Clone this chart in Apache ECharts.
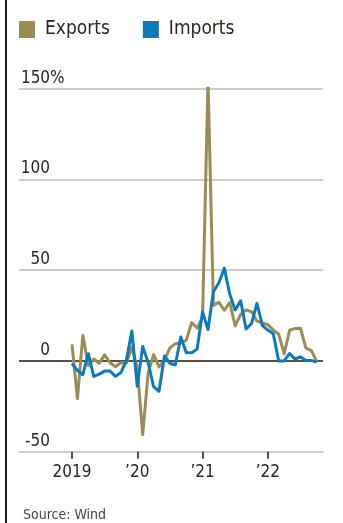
<!DOCTYPE html>
<html>
<head>
<meta charset="utf-8">
<script src="https://cdn.jsdelivr.net/npm/echarts@6/dist/echarts.min.js"></script>
<style>
html,body{margin:0;padding:0;background:#fff;}
#c{width:343px;height:523px;}
</style>
</head>
<body>
<div id="c"></div>
<script>
// Monthly y/y change, %, Jan 2019 - Oct 2022
var months = [
  '2019-01','2019-02','2019-03','2019-04','2019-05','2019-06','2019-07','2019-08','2019-09','2019-10','2019-11','2019-12',
  '2020-01','2020-02','2020-03','2020-04','2020-05','2020-06','2020-07','2020-08','2020-09','2020-10','2020-11','2020-12',
  '2021-01','2021-02','2021-03','2021-04','2021-05','2021-06','2021-07','2021-08','2021-09','2021-10','2021-11','2021-12',
  '2022-01','2022-02','2022-03','2022-04','2022-05','2022-06','2022-07','2022-08','2022-09','2022-10'
];
var exportsYoY = [
  9.1, -20.7, 14.2, -2.7, 1.1, -1.3, 3.3, -1.0, -3.2, -0.9, -1.1, 7.6,
  -4, -40.6, -6.6, 3.5, -3.3, 0.5, 7.2, 9.5, 9.9, 11.4, 21.1, 18.1,
  24, 154.9, 30.6, 32.3, 27.9, 32.2, 19.3, 25.6, 28.1, 27.1, 22.0, 20.9,
  20, 17, 14.7, 3.9, 16.9, 17.9, 18.0, 7.1, 5.7, -0.3
];
var importsYoY = [
  -1.5, -5.2, -7.6, 4.0, -8.5, -7.3, -5.6, -5.6, -8.5, -6.4, 0.3, 16.5,
  -14, 8, -0.9, -14.2, -16.7, 2.7, -1.4, -2.1, 13.2, 4.7, 4.5, 6.5,
  27, 17.3, 38.1, 43.1, 51.1, 36.7, 28.1, 33.1, 17.6, 20.6, 31.7, 19.5,
  17, 15, -0.1, 0.0, 4.1, 1.0, 2.3, 0.3, 0.3, -0.7
];
var yearTickMonths = ['2019-01','2020-01','2021-01','2022-01'];
var yearTickLabels = ['2019', '\u201920', '\u201921', '\u201922'];

var FONT = '"DejaVu Sans Condensed", "DejaVu Sans", sans-serif';
var TXT = '#2d2620';

function toPairs(vals) {
  return vals.map(function (v, i) { return [i, v]; });
}
var tickIdx = yearTickMonths.map(function (m) { return months.indexOf(m); });

var chart = echarts.init(document.getElementById('c'), null, {renderer: 'canvas'});
chart.setOption({
  animation: false,
  backgroundColor: '#fff',
  textStyle: {fontFamily: FONT},
  legend: {
    left: 19, top: 20, padding: 0,
    icon: 'rect', itemWidth: 16, itemHeight: 17, itemGap: 33,
    textStyle: {fontSize: 19, color: TXT, fontFamily: FONT, padding: [0, 0, 0, 5]},
    data: ['Exports', 'Imports']
  },
  graphic: [
    {type: 'rect', left: 5, top: 0, shape: {width: 2, height: 523}, style: {fill: '#2a1a0e'}},
    {type: 'text', left: 23, top: 508, style: {text: 'Source: Wind', font: '14px ' + FONT, fill: '#4a4540'}}
  ],
  grid: {left: 19, right: 20, top: 88.6, bottom: 523 - 451.7},
  xAxis: {
    type: 'value',
    min: -9.74, max: 46.14,
    splitLine: {show: false},
    axisLine: {show: true, onZero: false, lineStyle: {color: '#cccccc', width: 2}},
    axisTick: {show: true, customValues: tickIdx, length: 7, lineStyle: {color: '#555', width: 2}},
    axisLabel: {
      customValues: tickIdx, margin: 12, fontSize: 17, color: TXT, fontFamily: FONT,
      formatter: function (v) { var k = tickIdx.indexOf(v); return k >= 0 ? yearTickLabels[k] : ''; }
    }
  },
  yAxis: {
    type: 'value', min: -50, max: 150, interval: 50,
    axisLine: {show: false}, axisTick: {show: false},
    splitLine: {show: true, lineStyle: {color: ['#cccccc', '#5a5048', '#cccccc', '#cccccc', '#cccccc'], width: 2}},
    axisLabel: {
      inside: true, margin: 2, verticalAlign: 'bottom', align: 'left',
      padding: [0, 0, 2, 0],
      formatter: function (v) { return '{n|' + v + '}' + (v === 150 ? '{p|%}' : ''); },
      rich: {
        n: {width: 29, align: 'right', fontSize: 17, color: TXT, fontFamily: FONT, lineHeight: 17},
        p: {fontSize: 17, color: TXT, fontFamily: FONT, lineHeight: 17}
      }
    }
  },
  series: [
    {name: 'Exports', type: 'line', data: toPairs(exportsYoY), symbol: 'none', color: '#998d55',
     lineStyle: {width: 3, color: '#998d55', join: 'round'}, z: 2},
    {name: 'Imports', type: 'line', data: toPairs(importsYoY), symbol: 'none', color: '#0b7bbd',
     lineStyle: {width: 3, color: '#0b7bbd', join: 'round'}, z: 3}
  ]
});
</script>
</body>
</html>
